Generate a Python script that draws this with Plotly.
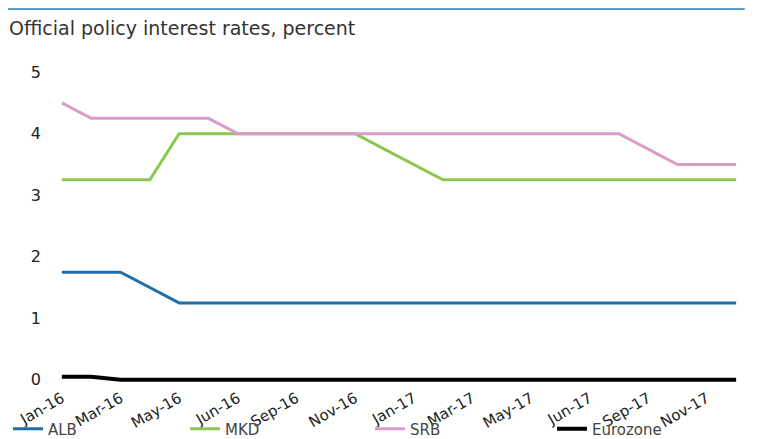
import plotly.graph_objects as go

# monthly observations Jan-16 .. Dec-17 (24 points), labels every second point
n_points = 24
tick_labels = ["Jan-16", "Mar-16", "May-16", "Jun-16", "Sep-16", "Nov-16",
               "Jan-17", "Mar-17", "May-17", "Jun-17", "Sep-17", "Nov-17"]

alb = [1.75, 1.75, 1.75, 1.5, 1.25, 1.25, 1.25, 1.25, 1.25, 1.25, 1.25, 1.25,
       1.25, 1.25, 1.25, 1.25, 1.25, 1.25, 1.25, 1.25, 1.25, 1.25, 1.25, 1.25]
mkd = [3.25, 3.25, 3.25, 3.25, 4.0, 4.0, 4.0, 4.0, 4.0, 4.0, 4.0, 3.75,
       3.5, 3.25, 3.25, 3.25, 3.25, 3.25, 3.25, 3.25, 3.25, 3.25, 3.25, 3.25]
srb = [4.5, 4.25, 4.25, 4.25, 4.25, 4.25, 4.0, 4.0, 4.0, 4.0, 4.0, 4.0,
       4.0, 4.0, 4.0, 4.0, 4.0, 4.0, 4.0, 4.0, 3.75, 3.5, 3.5, 3.5]
eurozone = [0.05, 0.05, 0.0, 0.0, 0.0, 0.0, 0.0, 0.0, 0.0, 0.0, 0.0, 0.0,
            0.0, 0.0, 0.0, 0.0, 0.0, 0.0, 0.0, 0.0, 0.0, 0.0, 0.0, 0.0]

x = list(range(n_points))
tick_vals = x[::2]

FONT = "DejaVu Sans"
W, H = 775, 431
fig = go.Figure()
series = [("ALB", alb, "#1f6ea8", 3), ("MKD", mkd, "#8cc751", 3),
          ("SRB", srb, "#dc9cc9", 3), ("Eurozone", eurozone, "#000000", 4)]
legend_ids = ["legend", "legend2", "legend3", "legend4"]
legend_x_px = [-8, 177, 362, 544]
for (name, vals, color, w), lid in zip(series, legend_ids):
    fig.add_trace(go.Scatter(x=x, y=vals, mode="lines", name=name, legend=lid,
                             line=dict(color=color, width=w)))

legend_common = dict(orientation="h", xref="container", yref="container",
                     y=0.0232, xanchor="left", yanchor="middle",
                     bgcolor="rgba(0,0,0,0)",
                     font=dict(size=15, color="#444444", family=FONT))
legends = {lid: dict(x=px / W, **legend_common)
           for lid, px in zip(legend_ids, legend_x_px)}

fig.update_layout(
    width=W, height=H,
    margin=dict(l=48, r=41, t=58, b=53, autoexpand=False),
    paper_bgcolor="white", plot_bgcolor="white",
    font=dict(family=FONT, color="#333333"),
    showlegend=True,
    **legends,
)
fig.update_xaxes(range=[-0.2, 23.2], tickvals=tick_vals, ticktext=tick_labels,
                 tickangle=-30, showgrid=False, zeroline=False, showline=False,
                 automargin=False,
                 tickfont=dict(size=15, color="#222222"))
fig.update_yaxes(range=[-0.1, 5.1], tickvals=[0, 1, 2, 3, 4, 5],
                 showgrid=False, zeroline=False, showline=False,
                 ticklabelstandoff=14, automargin=False,
                 tickfont=dict(size=16, color="#222222"))

fig.add_shape(type="line", xref="paper", yref="paper",
              x0=-0.074, x1=1.004, y0=1.178, y1=1.178,
              line=dict(color="#5a9bc8", width=2))
fig.add_annotation(text="Official policy interest rates, percent",
                   xref="paper", yref="paper", x=-0.071, y=1.119,
                   xanchor="left", yanchor="middle", showarrow=False,
                   font=dict(size=19, color="#333333", family=FONT))

fig.write_html("out.html")
